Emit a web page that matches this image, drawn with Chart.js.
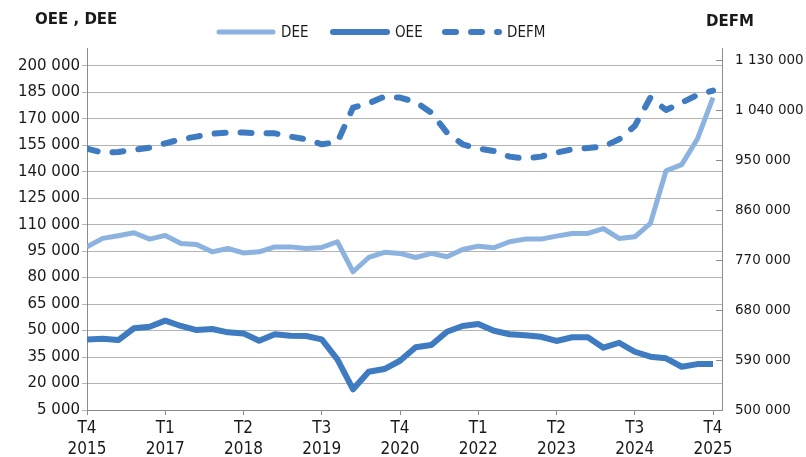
<!DOCTYPE html>
<html>
<head>
<meta charset="utf-8">
<script src="https://cdn.jsdelivr.net/npm/chart.js@4"></script>
<style>
  html, body { margin: 0; padding: 0; background: #fff; }
</style>
</head>
<body>
<canvas id="chart" width="806" height="457"></canvas>
<script>
// quarterly series, T4 2015 .. T4 2025 (41 quarters)
const xTickLabels = [
  ["T4", "2015"], ["T1", "2017"], ["T2", "2018"], ["T3", "2019"], ["T4", "2020"],
  ["T1", "2022"], ["T2", "2023"], ["T3", "2024"], ["T4", "2025"]
];
const leftTicks = [5000, 20000, 35000, 50000, 65000, 80000, 95000, 110000, 125000, 140000, 155000, 170000, 185000, 200000];
const rightTicks = [500000, 590000, 680000, 770000, 860000, 950000, 1040000, 1130000];

const dee = [97400, 102200, 103700, 105400, 101800, 103900, 99300, 98800, 94600, 96500,
  94000, 94600, 97400, 97400, 96500, 97100, 100300, 83300, 91400, 94300,
  93700, 91400, 93700, 91800, 95900, 97800, 96900, 100300, 101800, 101800,
  103500, 105000, 105000, 107800, 102200, 103100, 110700, 140500, 144000, 158500, 182000];
const oee = [45000, 45400, 44600, 51300, 52200, 55600, 52600, 50300, 50900, 49000,
  48400, 44200, 47900, 47100, 46900, 45000, 33700, 16700, 26700, 28200,
  32900, 40500, 41800, 49300, 52600, 53700, 49900, 47900, 47300, 46500,
  44100, 46200, 46200, 40300, 43100, 38000, 35200, 34300, 29500, 31000, 31000];
const defm = [970500, 963300, 964400, 968000, 972300, 980000, 987300, 992100, 997500, 999300,
  999300, 998000, 998000, 992100, 987300, 978300, 982400, 1044300, 1052100, 1064100,
  1062300, 1054400, 1035300, 999300, 978300, 970500, 966200, 956100, 952500, 956100,
  963300, 969300, 971600, 974100, 987300, 1011200, 1062300, 1040000, 1053300, 1067000, 1075000];

const blue = "#3e7bc1";
const lightBlue = "#8cb2df";
const axisGrey = "#8c8c8c";
const gridGrey = "#b4b4b4";
const textColor = "#1a1a1a";

const fmt = (v) => String(v).replace(/\B(?=(\d{3})+(?!\d))/g, " ");
const toPoints = (arr) => arr.map((v, i) => ({ x: i, y: v }));

const decor = {
  id: "decor",
  afterDraw(chart) {
    const { ctx, chartArea, scales } = chart;
    ctx.save();
    // right axis tick marks point inwards
    ctx.strokeStyle = axisGrey;
    ctx.lineWidth = 1;
    scales.y1.ticks.forEach((t) => {
      const y = Math.round(scales.y1.getPixelForValue(t.value)) + 0.5;
      ctx.beginPath();
      ctx.moveTo(chartArea.right - 6, y);
      ctx.lineTo(chartArea.right, y);
      ctx.stroke();
    });
    // axis titles
    ctx.fillStyle = textColor;
    ctx.font = "bold 15px 'DejaVu Sans'";
    ctx.textBaseline = "alphabetic";
    ctx.fillText("OEE , DEE", 35, 24);
    ctx.fillText("DEFM", 706, 26);
    // legend
    const legendX = [216, 330, 442];
    ctx.font = "15px 'DejaVu Sans Condensed', 'DejaVu Sans'";
    ctx.textBaseline = "middle";
    chart.data.datasets.forEach((ds, k) => {
      const x = legendX[k];
      ctx.strokeStyle = ds.borderColor;
      ctx.lineWidth = ds.borderWidth;
      ctx.lineCap = "round";
      ctx.setLineDash(ds.borderDash || []);
      ctx.beginPath();
      ctx.moveTo(x + 3, 32);
      ctx.lineTo(x + 57, 32);
      ctx.stroke();
      ctx.setLineDash([]);
      ctx.fillText(ds.label, x + 65, 33);
    });
    ctx.restore();
  }
};

new Chart(document.getElementById("chart"), {
  type: "line",
  data: {
    datasets: [
      { label: "DEE", data: toPoints(dee), yAxisID: "y", borderColor: lightBlue, borderWidth: 5 },
      { label: "OEE", data: toPoints(oee), yAxisID: "y", borderColor: blue, borderWidth: 6 },
      { label: "DEFM", data: toPoints(defm), yAxisID: "y1", borderColor: blue, borderWidth: 6,
        borderDash: [11, 15], borderCapStyle: "round" }
    ]
  },
  options: {
    responsive: false,
    animation: false,
    layout: { padding: { top: 48, left: 0, right: 0, bottom: 0 } },
    elements: {
      point: { radius: 0 },
      line: { tension: 0, borderJoinStyle: "round", fill: false }
    },
    plugins: { legend: { display: false }, tooltip: { enabled: false } },
    scales: {
      x: {
        type: "linear",
        min: 0,
        max: 40.575,
        afterBuildTicks: (s) => { s.ticks = xTickLabels.map((_, k) => ({ value: k * 5 })); },
        afterFit: (s) => { s.height = 47; },
        grid: { drawOnChartArea: false, tickLength: 5, color: axisGrey },
        border: { color: axisGrey },
        ticks: {
          autoSkip: false, maxRotation: 0, padding: 4, color: textColor,
          font: { family: "'DejaVu Sans Condensed', 'DejaVu Sans'", size: 17, lineHeight: 1.18 },
          callback: (v) => xTickLabels[v / 5]
        }
      },
      y: {
        position: "left",
        min: 5000,
        max: 210060,
        afterBuildTicks: (s) => { s.ticks = leftTicks.map((v) => ({ value: v })); },
        afterFit: (s) => { s.width = 87; },
        grid: { color: gridGrey, tickLength: 5 },
        border: { color: axisGrey },
        ticks: { padding: 2, color: textColor, font: { family: "'DejaVu Sans'", size: 15 }, callback: (v) => fmt(v) }
      },
      y1: {
        position: "right",
        min: 500000,
        max: 1151600,
        afterBuildTicks: (s) => { s.ticks = rightTicks.map((v) => ({ value: v })); },
        afterFit: (s) => { s.width = 84; },
        grid: { drawOnChartArea: false, drawTicks: false },
        border: { color: axisGrey },
        ticks: { padding: 13, color: textColor, font: { family: "'DejaVu Sans'", size: 13.5 }, callback: (v) => fmt(v) }
      }
    }
  },
  plugins: [decor]
});
</script>
</body>
</html>
